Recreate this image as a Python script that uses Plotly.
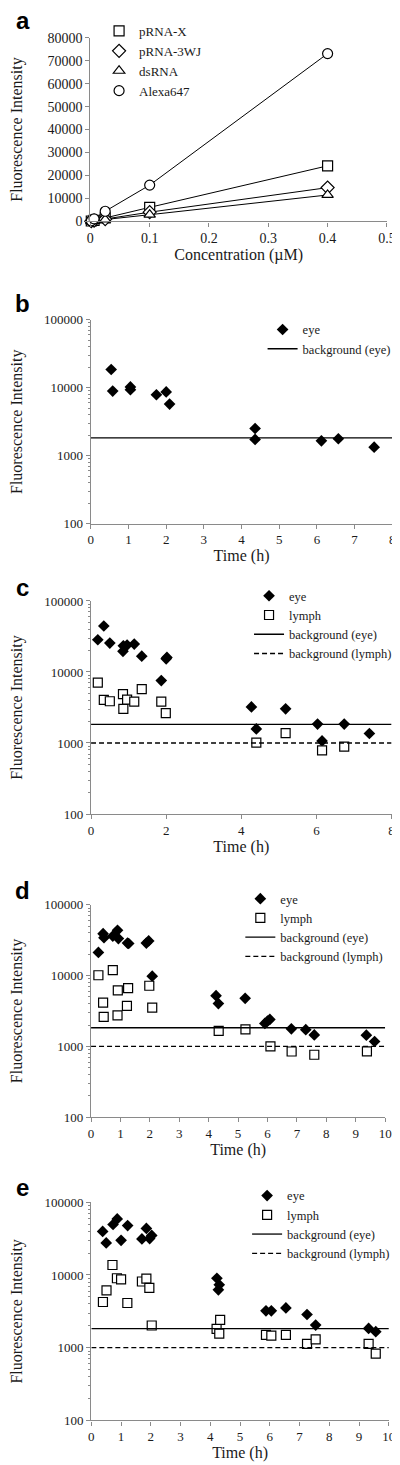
import plotly.graph_objects as go

W, H = 400, 1465

# ---------------- Panel a data ----------------
conc = [0.0015625, 0.00625, 0.025, 0.1, 0.4]
prna_x = [150, 450, 1500, 6100, 24200]
prna_3wj = [100, 300, 1000, 4000, 14700]
dsrna = [80, 250, 800, 2900, 11500]
alexa647 = [250, 1100, 4400, 15800, 73100]

# ---------------- Panel b data ----------------
b_eye_t = [0.54, 0.58, 1.05, 1.05, 1.74, 2.0, 2.09, 4.36, 4.36, 6.12, 6.57, 7.52]
b_eye_v = [18600, 8950, 10300, 9400, 7900, 8700, 5760, 2520, 1740, 1660, 1780, 1340]

# ---------------- Panel c data ----------------
c_eye_t = [0.18, 0.34, 0.50, 0.86, 0.96, 1.15, 0.85, 1.35, 1.87, 2.0, 2.02,
           4.27, 4.40, 5.18, 6.03, 6.15, 6.74, 7.41]
c_eye_v = [28400, 44400, 25500, 23400, 23900, 24700, 19500, 16700, 7570, 15300, 16000,
           3220, 1580, 3030, 1850, 1070, 1850, 1360]
c_lymph_t = [0.18, 0.34, 0.50, 0.85, 0.86, 0.96, 1.15, 1.35, 1.87, 1.99,
             4.40, 5.18, 6.15, 6.74]
c_lymph_v = [7100, 4040, 3870, 4890, 3030, 4080, 3830, 5730, 3830, 2640,
             1010, 1380, 790, 890]

# ---------------- Panel d data ----------------
d_eye_t = [0.25, 0.41, 0.44, 0.74, 0.90, 0.93, 1.24, 1.28, 1.88, 1.96, 2.08,
           4.25, 4.33, 5.24, 5.91, 6.0, 6.08, 6.81, 7.30, 7.59, 9.36, 9.64]
d_eye_v = [21200, 39100, 34300, 36200, 43600, 33300, 28800, 28400, 28800, 30900, 9800,
           5200, 4020, 4770, 2110, 2270, 2400, 1770, 1720, 1450, 1440, 1170]
d_lymph_t = [0.25, 0.74, 0.41, 0.43, 0.91, 0.90, 1.26, 1.22, 1.98, 2.08,
             4.34, 5.25, 6.10, 6.82, 7.59, 9.38]
d_lymph_v = [10100, 11900, 4150, 2610, 6170, 2730, 6640, 3720, 7180, 3530,
             1650, 1740, 1000, 845, 760, 850]

# ---------------- Panel e data ----------------
e_eye_t = [0.38, 0.50, 0.73, 0.87, 1.0, 1.22, 1.70, 1.85, 1.96, 2.03,
           4.22, 4.30, 4.27, 5.87, 6.05, 6.54, 7.25, 7.54, 9.32, 9.56]
e_eye_v = [39700, 27600, 49400, 59000, 29900, 47800, 31300, 43600, 31600, 35000,
           9020, 7310, 6250, 3210, 3210, 3520, 2860, 2050, 1840, 1660]
e_lymph_t = [0.71, 0.86, 1.0, 1.70, 1.85, 1.95, 0.39, 0.51, 1.21, 2.03,
             4.21, 4.33, 4.30, 5.87, 6.05, 6.54, 7.25, 7.54, 9.32, 9.56]
e_lymph_v = [13700, 9020, 8700, 8130, 8930, 6660, 4250, 6130, 4120, 2020,
             1810, 2420, 1560, 1500, 1470, 1500, 1130, 1300, 1130, 830]

bg_eye = 1830
bg_lymph = 1000

panel_labels = ["a", "b", "c", "d", "e"]
log_tickvals = [100, 1000, 10000, 100000]
log_ticktext = ["100", "1000", "10000", "100000"]
lin_tickvals = [0, 10000, 20000, 30000, 40000, 50000, 60000, 70000, 80000]
lin_ticktext = ["0", "10000", "20000", "30000", "40000", "50000", "60000", "70000", "80000"]

SERIF = "Liberation Serif"
TXT = "#1a1a1a"
AXC = "#8a8a8a"

# pixel boxes of each plot area: (x0, x1, ytop, ybottom)
boxes = [
    (81.0, 387.5, 23.0, 208.5),
    (81.5, 393.0, 308.0, 514.0),
    (81.7, 392.3, 592.0, 807.3),
    (81.7, 385.7, 899.0, 1113.5),
    (82.0, 389.5, 1199.5, 1420.0),
]

# minor tick positions on the log axes (2..9 of each decade)
minor_vals = [m * 10 ** d for d in (2, 3, 4) for m in range(2, 10)]

fig = go.Figure()

# ---- panel a traces (lines, then markers carrying the legend)
a_series = [("pRNA-X", prna_x, "square"),
            ("pRNA-3WJ", prna_3wj, "diamond"),
            ("dsRNA", dsrna, "triangle-up"),
            ("Alexa647", alexa647, "circle")]
for name, vals, sym in a_series:
    fig.add_trace(go.Scatter(
        x=conc, y=vals, name=name, mode="lines", showlegend=False,
        line=dict(color="black", width=1), xaxis="x", yaxis="y", cliponaxis=False))
for name, vals, sym in a_series:
    fig.add_trace(go.Scatter(
        x=conc, y=vals, name=name, mode="markers",
        marker=dict(symbol=sym, size=10, color="white", line=dict(width=1.2, color="black")),
        xaxis="x", yaxis="y", legend="legend", cliponaxis=False))


def add_time_panel(idx, eye_t, eye_v, lymph_t, lymph_v, xmax):
    xa = "x%d" % idx
    ya = "y%d" % idx
    lg = "legend%d" % idx
    fig.add_trace(go.Scatter(
        x=eye_t, y=eye_v, name="eye", mode="markers",
        marker=dict(symbol="diamond", size=9, color="black"),
        xaxis=xa, yaxis=ya, legend=lg, cliponaxis=False))
    if lymph_t is not None:
        fig.add_trace(go.Scatter(
            x=lymph_t, y=lymph_v, name="lymph", mode="markers",
            marker=dict(symbol="square", size=9, color="white",
                        line=dict(width=1.2, color="black")),
            xaxis=xa, yaxis=ya, legend=lg, cliponaxis=False))
    fig.add_trace(go.Scatter(
        x=[0, xmax], y=[bg_eye, bg_eye], name="background (eye)", mode="lines",
        line=dict(color="black", width=1.3),
        xaxis=xa, yaxis=ya, legend=lg))
    if lymph_t is not None:
        fig.add_trace(go.Scatter(
            x=[0, xmax], y=[bg_lymph, bg_lymph], name="background (lymph)", mode="lines",
            line=dict(color="black", width=1.3, dash="5px,3px"),
            xaxis=xa, yaxis=ya, legend=lg))


add_time_panel(2, b_eye_t, b_eye_v, None, None, 8)
add_time_panel(3, c_eye_t, c_eye_v, c_lymph_t, c_lymph_v, 8)
add_time_panel(4, d_eye_t, d_eye_v, d_lymph_t, d_lymph_v, 10)
add_time_panel(5, e_eye_t, e_eye_v, e_lymph_t, e_lymph_v, 10)


def xdom(b):
    return [b[0] / W, b[1] / W]


def ydom(b):
    return [1 - b[3] / H, 1 - b[2] / H]


base_axis = dict(showline=True, linecolor=AXC, linewidth=1.3, showgrid=False, zeroline=False,
                 ticks="outside", tickcolor=AXC, ticklen=4, tickwidth=1,
                 tickfont=dict(family=SERIF, size=13, color=TXT))

layout = dict(
    width=W, height=H, margin=dict(l=0, r=0, t=0, b=0),
    paper_bgcolor="white", plot_bgcolor="white", showlegend=True,
)

# panel a axes
layout["xaxis"] = dict(base_axis, domain=xdom(boxes[0]), range=[0, 0.5], dtick=0.1,
                       anchor="y", tickfont=dict(family=SERIF, size=14, color=TXT),
                       title=dict(text="Concentration (\u00b5M)", font=dict(family=SERIF, size=16, color=TXT), standoff=0))
layout["yaxis"] = dict(base_axis, domain=ydom(boxes[0]), range=[0, 80000],
                       tickvals=lin_tickvals, ticktext=lin_ticktext,
                       anchor="x", tickfont=dict(family=SERIF, size=14, color=TXT),
                       title=dict(text="Fluorescence Intensity", font=dict(family=SERIF, size=16, color=TXT), standoff=27))

xmaxes = [None, 8, 8, 10, 10]
dticks = [None, 1, 2, 1, 1]
for i in range(2, 6):
    b = boxes[i - 1]
    layout["xaxis%d" % i] = dict(base_axis, domain=xdom(b), range=[0, xmaxes[i - 1]],
                                 dtick=dticks[i - 1], anchor="y%d" % i,
                                 title=dict(text="Time (h)", font=dict(family=SERIF, size=16, color=TXT), standoff=0))
    layout["yaxis%d" % i] = dict(base_axis, domain=ydom(b), type="log", range=[2, 5],
                                 tickvals=log_tickvals, ticktext=log_ticktext, anchor="x%d" % i,
                                 minor=dict(ticks="outside", ticklen=2, tickcolor=AXC, showgrid=False,
                                            tickvals=minor_vals),
                                 title=dict(text="Fluorescence Intensity", font=dict(family=SERIF, size=16, color=TXT), standoff=21))

# (legend left x, first row centre y, font size)
leg_pos = {1: (90, 25, 13), 2: (259, 327, 12.5), 3: (245, 596, 12.5), 4: (236, 902, 12.5), 5: (243, 1202, 12.5)}
for i, (lx, ry, fs) in leg_pos.items():
    key = "legend" if i == 1 else "legend%d" % i
    layout[key] = dict(x=lx / W, y=1 - (ry - 24) / H, xanchor="left", yanchor="top",
                       font=dict(family=SERIF, size=fs, color=TXT),
                       bgcolor="rgba(0,0,0,0)", itemwidth=30, tracegroupgap=0)

letter_y = [6, 291, 578, 885, 1185]
annotations = []
for lab, ly in zip(panel_labels, letter_y):
    annotations.append(dict(text="<b>%s</b>" % lab, x=11 / W, y=1 - ly / H, xref="paper", yref="paper",
                            showarrow=False, xanchor="center", yanchor="middle",
                            font=dict(family="Liberation Sans", size=24, color="black")))
layout["annotations"] = annotations

fig.update_layout(**layout)
fig.write_html("out.html")
